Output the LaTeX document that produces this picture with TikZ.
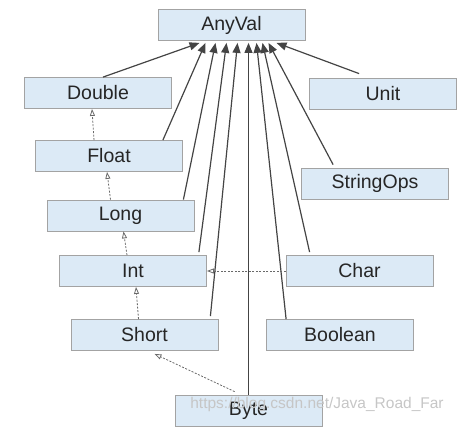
\documentclass[tikz,border=0pt]{standalone}
\usepackage{fontspec}
\setmainfont{Liberation Sans}
\usepackage{xcolor}
\usetikzlibrary{calc, arrows.meta}
\definecolor{boxblue}{HTML}{DCEAF6}
\definecolor{boxline}{HTML}{A3A3A3}
\definecolor{linegray}{HTML}{444444}

\begin{document}
\begin{tikzpicture}[x=1pt,y=-1pt,
        valbox/.style={draw=boxline,fill=boxblue,line width=0.8pt,minimum width=147pt,minimum height=31pt,inner sep=0pt,text=black!85,font=\fontsize{19.5}{21}\selectfont},
        extends/.style={draw=linegray,line width=1.2pt,-{Triangle[length=10pt,width=8pt]}},
        converts/.style={draw=linegray!80,line width=0.8pt,dash pattern=on 2pt off 1.5pt,-{Triangle[open,length=7pt,width=5pt]}}]
        \useasboundingbox (0,0) rectangle (457,440);
        %型のボックス
        \node[valbox] (AnyVal) at (231.5,25) {AnyVal};
        \node[valbox] (Double) at (98,93) {Double};
        \node[valbox] (Unit) at (383,93.5) {Unit};
        \node[valbox] (Float) at (109,156) {Float};
        \node[valbox] (StringOps) at (375,183.5) {StringOps};
        \node[valbox] (Long) at (120.5,215.5) {Long};
        \node[valbox] (Int) at (133,271) {Int};
        \node[valbox] (Char) at (359.5,271) {Char};
        \node[valbox] (Short) at (144.5,335) {Short};
        \node[valbox] (Boolean) at (340,335) {Boolean};
        \node[valbox] (Byte) at (248.5,410.5) {Byte};
        %AnyValへの継承
        \draw[extends] ([xshift=5pt]Double.north) -- ($(AnyVal.south)+(-32,2)$);
        \draw[extends] ([xshift=-20pt]Float.north east) -- ($(AnyVal.south)+(-26,2)$);
        \draw[extends] ([xshift=-11pt]Long.north east) -- ($(AnyVal.south)+(-16,2)$);
        \draw[extends] ([xshift=-8pt,yshift=3pt]Int.north east) -- ($(AnyVal.south)+(-5,2)$);
        \draw[extends] ([xshift=-8pt,yshift=3pt]Short.north east) -- ($(AnyVal.south)+(6,2)$);
        \draw[extends] (Byte.north) -- (Byte.north |- {$(AnyVal.south)+(0,2)$});
        \draw[extends] ([xshift=20pt]Boolean.north west) -- ($(AnyVal.south)+(25,2)$);
        \draw[extends] ([xshift=24pt,yshift=3pt]Char.north west) -- ($(AnyVal.south)+(31,2)$);
        \draw[extends] ([xshift=32pt,yshift=3pt]StringOps.north west) -- ($(AnyVal.south)+(37,2)$);
        \draw[extends] ([xshift=50pt,yshift=4pt]Unit.north west) -- ($(AnyVal.south)+(45,2)$);
        %暗黙の変換
        \draw[converts] ([xshift=-15pt]Float.north) -- ([xshift=-6pt]Double.south);
        \draw[converts] ([xshift=-10pt]Long.north) -- ([xshift=-2pt]Float.south);
        \draw[converts] ([xshift=-6pt]Int.north) -- ([xshift=3pt]Long.south);
        \draw[converts] ([xshift=-6pt]Short.north) -- ([xshift=3pt]Int.south);
        \draw[converts] (Char.west) -- (Int.east);
        \draw[converts] ([xshift=60pt,yshift=3pt]Byte.north west) -- ([xshift=10pt,yshift=-3pt]Short.south);
        %透かし
        \node[text=gray!45,font=\fontsize{15.5}{17}\selectfont] (mark) at (317,404) {https://blog.csdn.net/Java\_Road\_Far};
\end{tikzpicture}
\end{document}
